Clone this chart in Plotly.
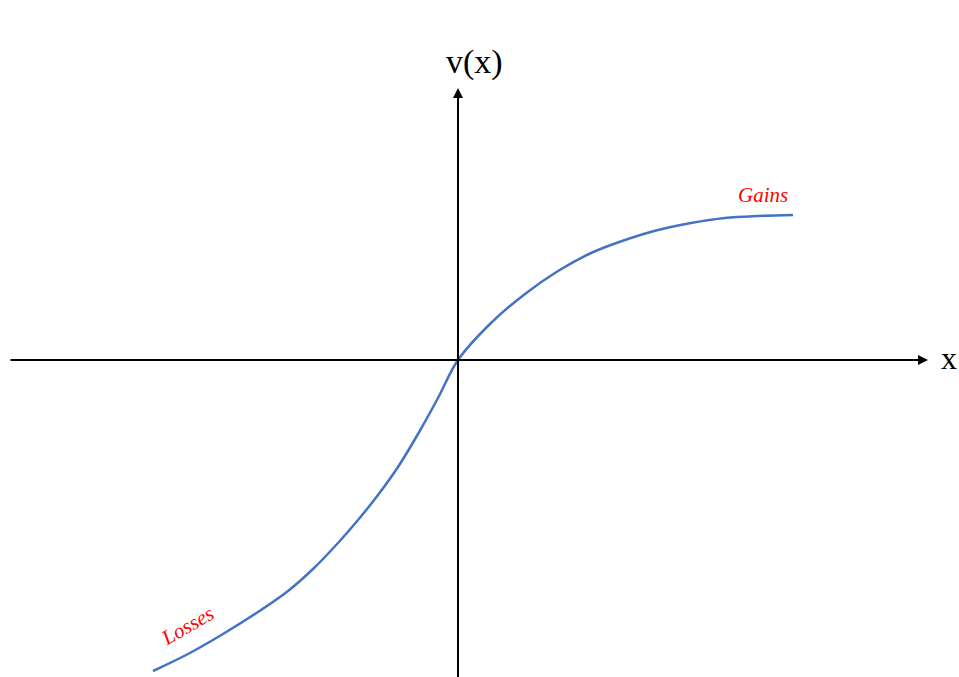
import plotly.graph_objects as go

# value function (origin at the axes crossing)
loss_x = [-305, -270, -235, -200, -170, -145, -120, -100, -80, -60, -40, -20, 0]
loss_y = [-311, -294, -274, -252, -231, -209, -183, -160, -135, -107, -74, -38, 0]
gain_x = [33, 67, 100, 133, 167, 200, 233, 267, 300, 335]
gain_y = [37, 66, 89, 107, 120, 130, 137, 142, 144, 145]

curve_x = loss_x + gain_x
curve_y = loss_y + gain_y

serif = "Liberation Serif"

fig = go.Figure()
fig.add_trace(go.Scatter(x=curve_x, y=curve_y, mode="lines",
                         line=dict(color="#4472C4", width=2.5, shape="spline", smoothing=1),
                         hoverinfo="skip", showlegend=False))

# axes drawn as arrows
fig.add_annotation(x=470, y=0, ax=-449, ay=0, xref="x", yref="y", axref="x", ayref="y",
                   showarrow=True, arrowhead=2, arrowsize=1, arrowwidth=2,
                   arrowcolor="black", text="")
fig.add_annotation(x=0, y=272, ax=0, ay=-330, xref="x", yref="y", axref="x", ayref="y",
                   showarrow=True, arrowhead=2, arrowsize=1, arrowwidth=2,
                   arrowcolor="black", text="")

fig.add_annotation(x=16, y=298, text="v(x)", showarrow=False,
                   font=dict(family=serif, size=34, color="black"))
fig.add_annotation(x=491, y=2, text="x", showarrow=False,
                   font=dict(family=serif, size=32, color="black"))
fig.add_annotation(x=305, y=165, text="<i>Gains</i>", showarrow=False,
                   font=dict(family=serif, size=21, color="red"))
fig.add_annotation(x=-271, y=-266, text="<i>Losses</i>", showarrow=False, textangle=-30,
                   font=dict(family=serif, size=21, color="red"))

fig.update_xaxes(range=[-458, 501], visible=False, fixedrange=True)
fig.update_yaxes(range=[-317, 360], visible=False, fixedrange=True)
fig.update_layout(width=959, height=677, margin=dict(l=0, r=0, t=0, b=0),
                  plot_bgcolor="white", paper_bgcolor="white")

# drop the default body margin so the figure fills the window
fig.write_html("out.html", config={"displayModeBar": False},
               post_script="document.body.style.margin='0';")
